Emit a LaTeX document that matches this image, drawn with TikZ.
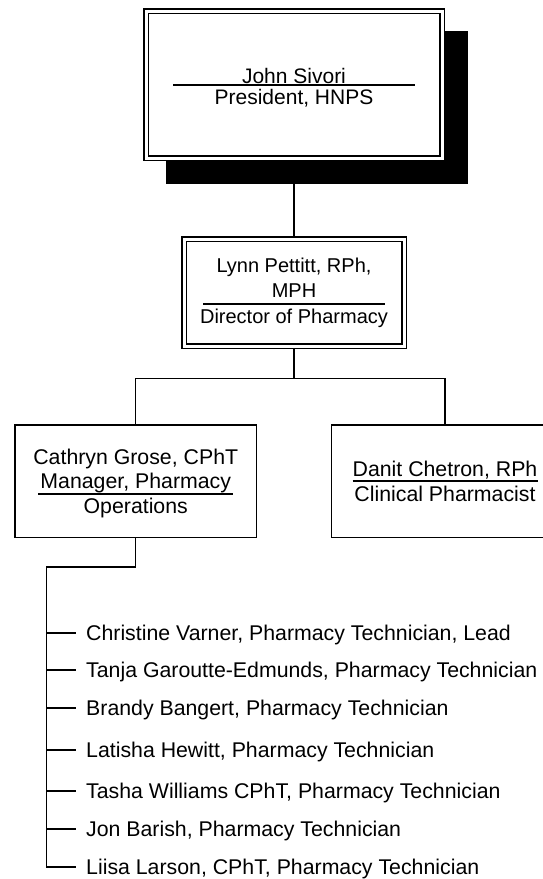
\documentclass[tikz,border=0pt]{standalone}
\usepackage{fontspec}
\setmainfont{Liberation Sans}
\usetikzlibrary{backgrounds}

\begin{document}
\begin{tikzpicture}[
	x=1pt,y=-1pt,
	font=\fontsize{21.3}{24.5}\selectfont,
	edge/.style={-,line width=1.3pt},
	sep/.style={line width=1.2pt},
	dbox/.style={draw,double,double distance=3pt,line width=1.5pt,fill=white,outer sep=3pt,align=center,inner sep=0pt},
	sbox/.style={draw,line width=1.5pt,fill=white,align=center,inner sep=0pt},
	staff/.style={anchor=west,inner xsep=10pt,inner ysep=0pt,text height=15.2pt,text depth=0pt}
	]
	\useasboundingbox (0,0) rectangle (542,879);
	
	\node[dbox,minimum width=296pt,minimum height=147pt,font=\fontsize{21}{21.5}\selectfont] (pres) at (294,84.5) {\rule{0pt}{22pt}John Sivori\\President, HNPS};
	\begin{scope}[on background layer]
		\fill ([shift={(22.5,22.5)}]pres.north west) rectangle ([shift={(22.5,22.5)}]pres.south east); % shadow
	\end{scope}
	\draw[sep] ([shift={(-121,0.5)}]pres.center) -- ++(242,0);
	
	\node[dbox,minimum width=220pt,minimum height=107pt,font=\fontsize{20}{25.5}\selectfont] (lynn) at (294,292.5) {Lynn Pettitt, RPh,\\MPH\\Director of Pharmacy};
	\draw[sep] ([shift={(-91,11.5)}]lynn.center) -- ++(182,0);
	
	\node[sbox,minimum width=241.5pt,minimum height=112.7pt] (cath) at (135.75,481.35) {\rule{0pt}{19pt}Cathryn Grose, CPhT\\Manager, Pharmacy\\Operations};
	\draw[sep] ([shift={(-97.3,12.6)}]cath.center) -- ++(194.6,0);
	\node[sbox,minimum width=226.6pt,minimum height=112.7pt] (danit) at (445,481.35) {Danit Chetron, RPh\\Clinical Pharmacist};
	\draw[sep] ([shift={(-92.5,-0.4)}]danit.center) -- ++(185,0);
	
	\draw[edge] (pres.south) -- (lynn.north);
	\coordinate (bus) at (294,378.5);
	\draw[edge] (lynn.south) -- (bus);
	\draw[edge] (cath.north) |- (bus) -| (danit.north);
	
	\foreach \y/\who [count=\i] in {633/{Christine Varner, Pharmacy Technician, Lead},
		670/{Tanja Garoutte-Edmunds, Pharmacy Technician},
		708/{Brandy Bangert, Pharmacy Technician},
		750/{Latisha Hewitt, Pharmacy Technician},
		791/{Tasha Williams CPhT, Pharmacy Technician},
		829/{Jon Barish, Pharmacy Technician},
		867/{Liisa Larson, CPhT, Pharmacy Technician}}
		\node[staff] (m\i) at (76,\y) {\who};
	
	\coordinate (elbow) at (46.7,567);
	\draw[edge] (cath.south) |- (elbow) |- (m7.west);
	\foreach \i in {1,...,6}
		\draw[edge] (elbow |- m\i.west) -- (m\i.west);
\end{tikzpicture}
\end{document}
